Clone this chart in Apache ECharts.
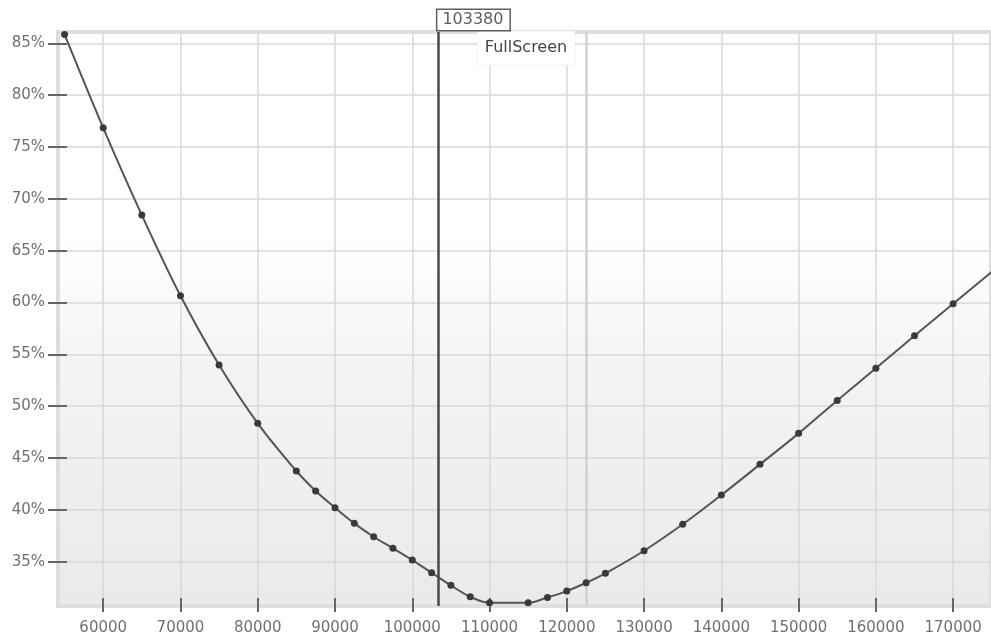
<!DOCTYPE html>
<html><head><meta charset="utf-8">
<script src="https://cdn.jsdelivr.net/npm/echarts@6/dist/echarts.min.js"></script>
<style>html,body{margin:0;padding:0;background:#fff}#c{width:991px;height:636px}</style>
</head><body><div id="c"></div>
<script>
// ---- data ----
const xValues = [55000, 60000, 65000, 70000, 75000, 80000, 85000, 87500, 90000, 92500, 95000, 97500,
  100000, 102500, 105000, 107500, 110000, 115000, 117500, 120000, 122500, 125000, 130000, 135000,
  140000, 145000, 150000, 155000, 160000, 165000, 170000, 175000];
const yValues = [85.86, 76.85, 68.43, 60.65, 53.97, 48.35, 43.75, 41.82, 40.21, 38.70, 37.41, 36.29,
  35.16, 33.94, 32.72, 31.62, 31.04, 31.04, 31.56, 32.17, 32.97, 33.88, 36.06, 38.61,
  41.43, 44.39, 47.38, 50.56, 53.65, 56.79, 59.88, 62.95];
const xTicks = [60000, 70000, 80000, 90000, 100000, 110000, 120000, 130000, 140000, 150000, 160000, 170000];
const yTicks = [35, 40, 45, 50, 55, 60, 65, 70, 75, 80, 85];
const xRange = [54150, 174900];
const yRange = [30.73, 86.09];
const markerX = 103380;
const secondX = 122500;
const buttonText = 'FullScreen';

const points = xValues.map((x, i) => [x, yValues[i]]);
const labelFont = { color: '#707070', fontFamily: 'DejaVu Sans', fontSize: 15 };

const chart = echarts.init(document.getElementById('c'), null, { renderer: 'canvas' });
chart.setOption({
  animation: false,
  backgroundColor: '#ffffff',
  grid: {
    left: 58, right: -3, top: 32, bottom: 30,
    show: true,
    borderColor: '#dedede', borderWidth: 4,
    backgroundColor: {
      type: 'linear', x: 0, y: 0, x2: 0, y2: 1,
      colorStops: [
        { offset: 0, color: '#ffffff' },
        { offset: 0.36, color: '#ffffff' },
        { offset: 0.6, color: '#f3f3f3' },
        { offset: 1, color: '#eaeaea' }
      ]
    }
  },
  xAxis: [{
    type: 'value', min: xRange[0], max: xRange[1],
    axisLine: { show: false },
    axisTick: { show: true, customValues: xTicks, length: 6, lineStyle: { color: '#666', width: 2 } },
    axisLabel: Object.assign({ customValues: xTicks, margin: 15, formatter: v => String(v) }, labelFont),
    splitLine: { show: true, lineStyle: { color: '#d9d9d9', width: 1.5 } }
  }, {
    type: 'value', min: xRange[0], max: xRange[1], position: 'bottom',
    axisLine: { show: false },
    axisTick: { show: true, inside: true, customValues: xTicks, length: 8, lineStyle: { color: '#666', width: 2 } },
    axisLabel: { show: false },
    splitLine: { show: false }
  }],
  yAxis: [{
    type: 'value', min: yRange[0], max: yRange[1],
    axisLine: { show: false },
    axisTick: { show: true, customValues: yTicks, length: 10, lineStyle: { color: '#666', width: 2 } },
    axisLabel: Object.assign({ customValues: yTicks, margin: 13, formatter: v => v + '%' }, labelFont),
    splitLine: { show: true, lineStyle: { color: '#d9d9d9', width: 1.5 } }
  }, {
    type: 'value', min: yRange[0], max: yRange[1], position: 'left',
    axisLine: { show: false },
    axisTick: { show: true, inside: true, customValues: yTicks, length: 9, lineStyle: { color: '#666', width: 2 } },
    axisLabel: { show: false },
    splitLine: { show: false }
  }],
  series: [{
    type: 'line',
    data: [],
    silent: true,
    markLine: {
      z: 1, silent: true, symbol: 'none',
      label: { show: false },
      data: [{ xAxis: secondX, lineStyle: { color: '#d0d0d0', width: 2.5, type: 'solid' } }]
    }
  }, {
    type: 'line',
    data: points,
    smooth: 0.35,
    symbol: 'circle',
    symbolSize: 7,
    itemStyle: { color: '#3a3a3a' },
    lineStyle: { color: '#555555', width: 2 },
    markLine: {
      silent: true, symbol: 'none',
      label: { show: false },
      data: [{ xAxis: markerX, lineStyle: { color: '#4a4a4a', width: 2.5, type: 'solid' } }]
    }
  }]
});

const px = chart.convertToPixel({ xAxisIndex: 0 }, markerX);
chart.setOption({
  graphic: [
    {
      type: 'text', x: px - 1, y: 10, z: 100,
      style: {
        text: String(markerX), font: '16px "DejaVu Sans"', fill: '#5e5e5e',
        backgroundColor: '#ffffff', borderColor: '#5e5e5e', borderWidth: 1.5,
        padding: [2, 6, 2, 5]
      }
    },
    {
      type: 'group', z: 100,
      children: [
        { type: 'rect', shape: { x: 477, y: 31, width: 98, height: 34 },
          style: { fill: '#ffffff', stroke: '#e8e8e8', lineWidth: 1, lineDash: [2, 2] } },
        { type: 'text', x: 526, y: 48,
          style: { text: buttonText, font: '16px "DejaVu Sans"', fill: '#454545', align: 'center', verticalAlign: 'middle' } }
      ]
    }
  ]
});
</script></body></html>
